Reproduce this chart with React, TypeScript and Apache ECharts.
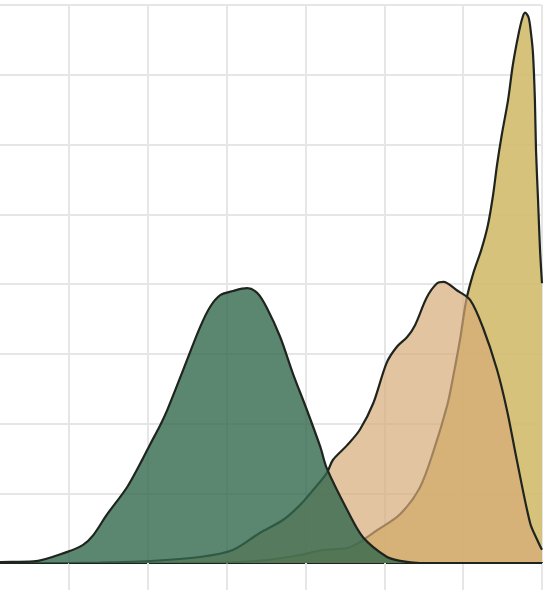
import React, { useEffect, useRef } from "react";
import * as echarts from "echarts";

// axis ticks (arbitrary units, labels not shown in the reference)
const xTicks = [0, 1, 2, 3, 4, 5, 6, 7];
const yTicks = [0, 1, 2, 3, 4, 5, 6, 7, 8];

// density curves: [x, density]
const greenDensity: [number, number][] = [
  [0, 0.01], [0.13, 0.014], [0.55, 0.022], [0.98, 0.16], [1.18, 0.26], [1.31, 0.4],
  [1.48, 0.69], [1.74, 1.09], [1.94, 1.5], [2.03, 1.7], [2.16, 1.98], [2.25, 2.2],
  [2.45, 2.77], [2.66, 3.37], [2.79, 3.67], [2.92, 3.84], [3.08, 3.9], [3.26, 3.94],
  [3.39, 3.87], [3.51, 3.66], [3.68, 3.24], [3.84, 2.72], [4.02, 2.19], [4.19, 1.66],
  [4.27, 1.36], [4.53, 0.76], [4.73, 0.37], [5.03, 0.09], [5.2, 0.03], [5.45, 0],
  [7, 0],
];

const tanDensity: [number, number][] = [
  [1.0, 0], [1.4, 0.007], [2.03, 0.029], [2.66, 0.086], [3.08, 0.186], [3.42, 0.43],
  [3.72, 0.62], [3.93, 0.83], [4.1, 1.05], [4.27, 1.29], [4.35, 1.48], [4.53, 1.69],
  [4.69, 1.91], [4.86, 2.29], [5.03, 2.87], [5.16, 3.1], [5.29, 3.24], [5.39, 3.41],
  [5.54, 3.81], [5.67, 4.01], [5.75, 4.03], [5.92, 3.91], [6.09, 3.77], [6.25, 3.38],
  [6.43, 2.77], [6.56, 2.17], [6.68, 1.48], [6.85, 0.57], [6.94, 0.33], [7.0, 0.19],
];

const yellowDensity: [number, number][] = [
  [2.6, 0], [3.04, 0.007], [3.51, 0.043], [3.93, 0.115], [4.22, 0.186], [4.53, 0.215],
  [4.69, 0.3], [4.91, 0.47], [5.2, 0.7], [5.45, 1.08], [5.62, 1.59], [5.8, 2.27],
  [5.87, 2.65], [5.96, 3.2], [6.04, 3.77], [6.13, 4.16], [6.23, 4.49], [6.315, 4.85],
  [6.38, 5.28], [6.43, 5.71], [6.49, 6.14], [6.57, 6.64], [6.63, 7.14], [6.7, 7.57],
  [6.75, 7.81], [6.785, 7.89], [6.83, 7.82], [6.86, 7.6], [6.886, 7.3], [6.91, 6.64],
  [6.924, 5.92], [6.95, 5.2], [6.975, 4.49], [7.0, 4.01],
];

const GRID_GRAY = "#e6e6e6";
const OUTLINE = "#1f241f";

export default function App() {
  const ref = useRef<HTMLDivElement>(null);

  useEffect(() => {
    if (!ref.current) return;
    const chart = echarts.init(ref.current, undefined, { renderer: "svg" });

    const mkSeries = (
      name: string,
      data: [number, number][],
      color: string,
      opacity: number,
      z: number
    ) => ({
      name,
      type: "line",
      data,
      z,
      showSymbol: false,
      smooth: 0.3,
      clip: true,
      lineStyle: { color: OUTLINE, width: 2.2 },
      areaStyle: { color, opacity },
      emphasis: { disabled: true },
    });

    chart.setOption({
      animation: false,
      backgroundColor: "#ffffff",
      grid: { left: 0, right: 11, top: 5, bottom: 33 },
      xAxis: {
        type: "value",
        min: xTicks[0],
        max: xTicks[xTicks.length - 1],
        interval: 1,
        axisLabel: { show: false },
        axisLine: { show: true, lineStyle: { color: OUTLINE, width: 2.2 } },
        axisTick: { show: true, length: 27, lineStyle: { color: GRID_GRAY, width: 2 } },
        splitLine: { show: true, lineStyle: { color: GRID_GRAY, width: 2 } },
      },
      yAxis: {
        type: "value",
        min: yTicks[0],
        max: yTicks[yTicks.length - 1],
        interval: 1,
        axisLabel: { show: false },
        axisLine: { show: false },
        axisTick: { show: false },
        splitLine: { show: true, lineStyle: { color: GRID_GRAY, width: 2 } },
      },
      series: [
        mkSeries("yellow", yellowDensity, "#d1bb6b", 0.9, 2),
        mkSeries("tan", tanDensity, "#d6ab77", 0.7, 3),
        mkSeries("green", greenDensity, "#32684c", 0.8, 4),
      ],
    });

    return () => chart.dispose();
  }, []);

  return (
    <div
      ref={ref}
      style={{ position: "absolute", left: -10, top: 0, width: 563, height: 596, overflow: "hidden" }}
    />
  );
}
